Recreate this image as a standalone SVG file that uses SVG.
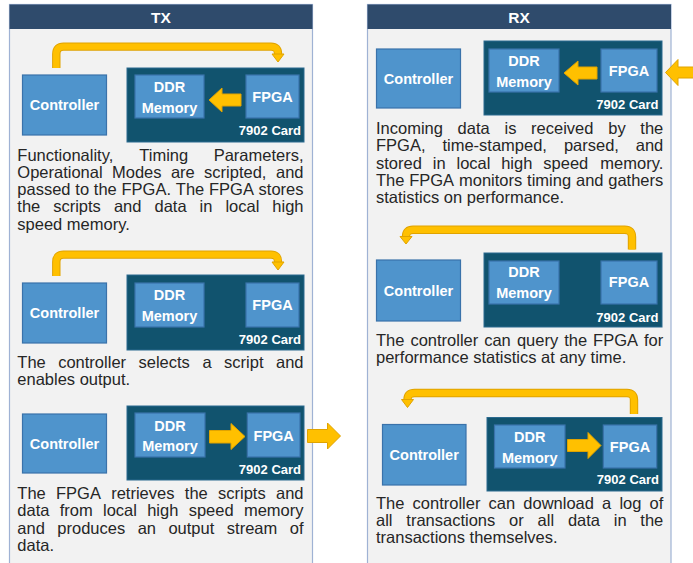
<svg xmlns="http://www.w3.org/2000/svg" width="693" height="563" viewBox="0 0 693 563">
<style>
.panel{fill:#f2f2f2;stroke:#9fb2d4;stroke-width:1.2}
.hdr{fill:#2f4b6c}
.htx{font-family:"Liberation Sans",Arial,sans-serif;font-weight:bold;font-size:15.5px;fill:#fff;text-anchor:middle}
.card{fill:#11536e;stroke:#2b6a8f;stroke-width:1}
.box{fill:#4f94cc;stroke:#3a72aa;stroke-width:1.2}
.lbl{font-family:"Liberation Sans",Arial,sans-serif;font-weight:bold;font-size:14.5px;fill:#fff;text-anchor:middle}
.cl{font-family:"Liberation Sans",Arial,sans-serif;font-weight:bold;font-size:13px;fill:#fff;text-anchor:end}
.t{font-family:"Liberation Sans",Arial,sans-serif;font-size:16.5px;fill:#262626}
.r{text-anchor:end}
.arr{fill:#ffc000;stroke:#e0a300;stroke-width:1;stroke-linejoin:miter}
.bandO{fill:none;stroke:#e0a300;stroke-width:8.4}
.band{fill:none;stroke:#ffc000;stroke-width:6.4}
</style>

<g id="panel-tx">
<rect class="panel" x="9.5" y="4.5" width="303" height="580"/>
<rect class="hdr" x="9.5" y="4.5" width="303" height="24.5"/>
<text class="htx" x="161" y="22.5">TX</text>
</g>
<g id="panel-rx">
<rect class="panel" x="367.5" y="4.5" width="303.5" height="580"/>
<rect class="hdr" x="367.5" y="4.5" width="303.5" height="24.5"/>
<text class="htx" x="519" y="22.5">RX</text>
</g>

<!-- TX row 1 -->
<g id="tx1-controller"><rect class="box" x="22.5" y="75" width="84" height="60"/><text class="lbl" x="64.5" y="110">Controller</text></g>
<g id="tx1-card"><rect class="card" x="127" y="68" width="177" height="74"/><text class="cl" x="301" y="135">7902 Card</text></g>
<g id="tx1-ddr"><rect class="box" x="135" y="75" width="69" height="43"/><text class="lbl" x="169.5" y="91.7">DDR</text><text class="lbl" x="169.5" y="112.5">Memory</text></g>
<g id="tx1-fpga"><rect class="box" x="246" y="75" width="53" height="43"/><text class="lbl" x="272.5" y="101.7">FPGA</text></g>

<!-- TX row 2 -->
<g id="tx2-controller"><rect class="box" x="22.5" y="283" width="84" height="60"/><text class="lbl" x="64.5" y="318">Controller</text></g>
<g id="tx2-card"><rect class="card" x="127" y="275" width="177" height="75"/><text class="cl" x="301" y="343.5">7902 Card</text></g>
<g id="tx2-ddr"><rect class="box" x="135" y="283" width="69" height="44"/><text class="lbl" x="169.5" y="300">DDR</text><text class="lbl" x="169.5" y="321">Memory</text></g>
<g id="tx2-fpga"><rect class="box" x="246" y="283" width="53" height="44"/><text class="lbl" x="272.5" y="310">FPGA</text></g>

<!-- TX row 3 -->
<g id="tx3-controller"><rect class="box" x="22.5" y="414" width="84" height="59"/><text class="lbl" x="64.5" y="449">Controller</text></g>
<g id="tx3-card"><rect class="card" x="127" y="406" width="177" height="74"/><text class="cl" x="301" y="474">7902 Card</text></g>
<g id="tx3-ddr"><rect class="box" x="135" y="413" width="70" height="44"/><text class="lbl" x="170" y="430.5">DDR</text><text class="lbl" x="170" y="451.3">Memory</text></g>
<g id="tx3-fpga"><rect class="box" x="247.3" y="413" width="52.7" height="44"/><text class="lbl" x="273.7" y="441">FPGA</text></g>

<!-- RX row 1 -->
<g id="rx1-controller"><rect class="box" x="376.5" y="49" width="84" height="59"/><text class="lbl" x="418.5" y="84">Controller</text></g>
<g id="rx1-card"><rect class="card" x="484" y="41" width="178" height="74"/><text class="cl" x="658.5" y="109.3">7902 Card</text></g>
<g id="rx1-ddr"><rect class="box" x="489" y="49" width="70" height="43"/><text class="lbl" x="524" y="65.7">DDR</text><text class="lbl" x="524" y="86.7">Memory</text></g>
<g id="rx1-fpga"><rect class="box" x="601" y="49" width="56" height="43"/><text class="lbl" x="629" y="75.7">FPGA</text></g>

<!-- RX row 2 -->
<g id="rx2-controller"><rect class="box" x="376.5" y="260" width="84" height="61"/><text class="lbl" x="418.5" y="295.7">Controller</text></g>
<g id="rx2-card"><rect class="card" x="484" y="253" width="178" height="74"/><text class="cl" x="658.5" y="321.7">7902 Card</text></g>
<g id="rx2-ddr"><rect class="box" x="489" y="261" width="70" height="43"/><text class="lbl" x="524" y="276.7">DDR</text><text class="lbl" x="524" y="297.7">Memory</text></g>
<g id="rx2-fpga"><rect class="box" x="601" y="261" width="56" height="43"/><text class="lbl" x="629" y="287.3">FPGA</text></g>

<!-- RX row 3 -->
<g id="rx3-controller"><rect class="box" x="382.5" y="424.5" width="83.5" height="60.5"/><text class="lbl" x="424.2" y="460">Controller</text></g>
<g id="rx3-card"><rect class="card" x="487" y="417.5" width="175" height="73.5"/><text class="cl" x="659" y="484">7902 Card</text></g>
<g id="rx3-ddr"><rect class="box" x="494.5" y="425" width="70.5" height="43"/><text class="lbl" x="529.7" y="441.7">DDR</text><text class="lbl" x="529.7" y="462.7">Memory</text></g>
<g id="rx3-fpga"><rect class="box" x="603.3" y="425" width="53.4" height="43"/><text class="lbl" x="630" y="452.3">FPGA</text></g>

<g id="connectors">
<!-- block arrows -->
<polygon class="arr" points="241,94 222,94 222,88 209,100 222,112 222,106 241,106"/>
<polygon class="arr" points="209.5,430.5 231,430.5 231,423.5 245,436.5 231,449.5 231,443 209.5,443"/>
<polygon class="arr" points="307.5,429.5 327.5,429.5 327.5,423 340.5,436 327.5,449 327.5,442.5 307.5,442.5"/>
<polygon class="arr" points="597,67 578,67 578,61 564,73 578,85 578,79 597,79"/>
<polygon class="arr" points="700,67 678,67 678,59.5 665.5,72.5 678,85.5 678,78 700,78"/>
<polygon class="arr" points="567.5,439.5 588,439.5 588,432.5 601,445.5 588,458.5 588,451.5 567.5,451.5"/>
<!-- curved arrows -->
<path class="bandO" d="M56.3,68 V54 Q56.3,46.6 63.6,46.6 H271 Q278,46.6 278,53.6 V55"/>
<path class="band" d="M56.3,68 V54 Q56.3,46.6 63.6,46.6 H271 Q278,46.6 278,53.6 V55"/>
<polygon class="arr" points="272,54 284,54 278,62"/>
<path class="bandO" d="M56.3,276 V262 Q56.3,254.6 63.6,254.6 H271 Q278,254.6 278,261.6 V263"/>
<path class="band" d="M56.3,276 V262 Q56.3,254.6 63.6,254.6 H271 Q278,254.6 278,261.6 V263"/>
<polygon class="arr" points="272,262 284,262 278,270"/>
<path class="bandO" d="M632,249.5 V237 Q632,229.7 624.7,229.7 H413 Q406,229.7 406,236.5 V237"/>
<path class="band" d="M632,249.5 V237 Q632,229.7 624.7,229.7 H413 Q406,229.7 406,236.5 V237"/>
<polygon class="arr" points="400,236.5 412,236.5 406,244"/>
<path class="bandO" d="M634,414 V400 Q634,393 627,393 H414.5 Q407.5,393 407.5,399.5 V400"/>
<path class="band" d="M634,414 V400 Q634,393 627,393 H414.5 Q407.5,393 407.5,399.5 V400"/>
<polygon class="arr" points="401.5,399.5 413.5,399.5 407.5,407.5"/>
</g>

<g id="tx1-text" class="t">
<text y="160.5"><tspan x="17.3">Functionality,</tspan><tspan x="139.3">Timing</tspan></text><text class="r" x="303.5" y="160.5">Parameters,</text>
<text y="177.8"><tspan x="17.3">Operational</tspan><tspan x="112">Modes</tspan><tspan x="170.9">are</tspan><tspan x="204.1">scripted,</tspan></text><text class="r" x="303.5" y="177.8">and</text>
<text y="195"><tspan x="17.3">passed</tspan><tspan x="75.3">to</tspan><tspan x="93.8">the</tspan><tspan x="121.5">FPGA.</tspan><tspan x="175.8">The</tspan><tspan x="209">FPGA</tspan></text><text class="r" x="303.5" y="195">stores</text>
<text y="212.3"><tspan x="17.3">the</tspan><tspan x="53.2">scripts</tspan><tspan x="113.9">and</tspan><tspan x="154.5">data</tspan><tspan x="199.6">in</tspan><tspan x="225.4">local</tspan></text><text class="r" x="303.5" y="212.3">high</text>
<text x="17.3" y="229.5">speed memory.</text>
</g>

<g id="tx2-text" class="t">
<text y="367.8"><tspan x="17.3">The</tspan><tspan x="58.2">controller</tspan><tspan x="138.5">selects</tspan><tspan x="202.4">a</tspan><tspan x="224.1">script</tspan></text><text class="r" x="303.5" y="367.8">and</text>
<text x="17.3" y="385">enables output.</text>
</g>

<g id="tx3-text" class="t">
<text y="499.2"><tspan x="17.3">The</tspan><tspan x="56">FPGA</tspan><tspan x="111.2">retrieves</tspan><tspan x="184.8">the</tspan><tspan x="218">scripts</tspan></text><text class="r" x="303.5" y="499.2">and</text>
<text y="516.4"><tspan x="17.3">data</tspan><tspan x="59.7">from</tspan><tspan x="103">local</tspan><tspan x="147.2">high</tspan><tspan x="188.7">speed</tspan></text><text class="r" x="303.5" y="516.4">memory</text>
<text y="533.6"><tspan x="17.3">and</tspan><tspan x="57.3">produces</tspan><tspan x="137.7">an</tspan><tspan x="168.4">output</tspan><tspan x="226.8">stream</tspan></text><text class="r" x="303.5" y="533.6">of</text>
<text x="17.3" y="550.8">data.</text>
</g>

<g id="rx1-text" class="t">
<text y="134"><tspan x="376">Incoming</tspan><tspan x="457.6">data</tspan><tspan x="504.5">is</tspan><tspan x="531.1">received</tspan><tspan x="608.3">by</tspan></text><text class="r" x="663.3" y="134">the</text>
<text y="151.3"><tspan x="376">FPGA,</tspan><tspan x="442.4">time-stamped,</tspan><tspan x="563.9">parsed,</tspan></text><text class="r" x="663.3" y="151.3">and</text>
<text y="168.6"><tspan x="376">stored</tspan><tspan x="432.8">in</tspan><tspan x="456.5">local</tspan><tspan x="501.2">high</tspan><tspan x="543.3">speed</tspan></text><text class="r" x="663.3" y="168.6">memory.</text>
<text y="185.9"><tspan x="376">The</tspan><tspan x="409.2">FPGA</tspan><tspan x="459">monitors</tspan><tspan x="527.1">timing</tspan><tspan x="576">and</tspan></text><text class="r" x="663.3" y="185.9">gathers</text>
<text x="376" y="203.2">statistics on performance.</text>
</g>

<g id="rx2-text" class="t">
<text y="345.5"><tspan x="376">The</tspan><tspan x="410.4">controller</tspan><tspan x="484.2">can</tspan><tspan x="516.9">query</tspan><tspan x="564.2">the</tspan><tspan x="593.1">FPGA</tspan></text><text class="r" x="663.3" y="345.5">for</text>
<text x="376" y="362.7">performance statistics at any time.</text>
</g>

<g id="rx3-text" class="t">
<text y="509"><tspan x="376">The</tspan><tspan x="412.6">controller</tspan><tspan x="488.5">can</tspan><tspan x="523.3">download</tspan><tspan x="602">a</tspan><tspan x="619.4">log</tspan></text><text class="r" x="663.3" y="509">of</text>
<text y="526"><tspan x="376">all</tspan><tspan x="406.3">transactions</tspan><tspan x="509.1">or</tspan><tspan x="537.6">all</tspan><tspan x="567.9">data</tspan><tspan x="613.8">in</tspan></text><text class="r" x="663.3" y="526">the</text>
<text x="376" y="543">transactions themselves.</text>
</g>
</svg>
